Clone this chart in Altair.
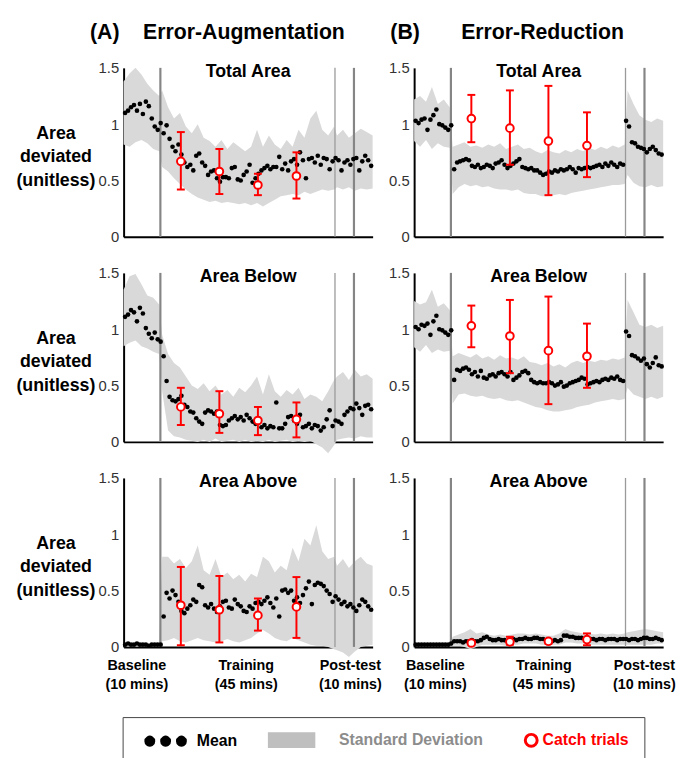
import altair as alt
import pandas as pd

FONT = "Liberation Sans"

# ---------------- data ----------------
trial = [i + 0.5 for i in range(84)]
band_x = [0, 2, 4, 6, 8, 10, 12] + list(range(13, 72, 2)) + [72, 74, 76, 78, 80, 82, 84]
catch_x = [19.3, 32.3, 45.3, 58.3]
vline_thick = [12.4, 77.7]
vline_thin = [71.3]

# (A) Error-Augmentation, Total Area
a1_mean = [1.10, 1.12, 1.15, 1.17, 1.12, 1.18, 1.09, 1.20, 1.16, 1.05, 0.98, 0.95, 1.01,
           0.92, 0.99, 0.87, 0.80, 0.76, 0.82, 0.73, 0.66, 0.62, 0.64, 0.59, 0.72, 0.74, 0.66, 0.63, 0.55,
           0.58, 0.59, 0.52, 0.49, 0.53, 0.53, 0.52, 0.61, 0.62, 0.51, 0.50, 0.55, 0.58, 0.64, 0.48, 0.52,
           0.56, 0.59, 0.61, 0.63, 0.60, 0.62, 0.62, 0.71, 0.60, 0.65, 0.59, 0.67, 0.69, 0.64, 0.75, 0.68,
           0.52, 0.69, 0.70, 0.66, 0.72, 0.64, 0.70, 0.69, 0.60, 0.67,
           0.70, 0.68, 0.59, 0.66, 0.68, 0.64, 0.69, 0.70, 0.59, 0.67, 0.72, 0.68, 0.63]
a1_upper = [1.38, 1.45, 1.50, 1.44, 1.36, 1.30, 1.25,
            1.30, 1.15, 1.05, 1.10, 0.98, 0.92, 1.00, 0.88, 0.85, 0.80,
            0.86, 0.78, 0.84, 0.80, 0.76, 0.80, 0.95, 0.80, 0.90, 0.82,
            0.78, 0.86, 0.80, 0.95, 0.88, 1.05, 1.12, 0.95, 0.90, 0.98,
            0.90, 0.95, 0.88, 0.92, 0.96, 0.93, 0.90]
a1_lower = [0.82, 0.80, 0.84, 0.86, 0.83, 0.78, 0.76,
            0.62, 0.58, 0.52, 0.47, 0.42, 0.38, 0.35, 0.33, 0.31, 0.32,
            0.30, 0.31, 0.30, 0.29, 0.30, 0.28, 0.30, 0.27, 0.30, 0.33,
            0.36, 0.37, 0.38, 0.37, 0.40, 0.38, 0.40, 0.42, 0.41, 0.42,
            0.44, 0.42, 0.44, 0.41, 0.43, 0.42, 0.43]
a1_c_mean = [0.67, 0.58, 0.46, 0.54]
a1_c_lo = [0.42, 0.38, 0.37, 0.34]
a1_c_hi = [0.93, 0.78, 0.56, 0.75]

# (B) Error-Reduction, Total Area
b1_mean = [1.03, 1.01, 1.04, 1.05, 0.95, 1.04, 1.08, 1.13, 1.00, 0.99, 0.97, 0.95, 0.99,
           0.60, 0.66, 0.67, 0.68, 0.69, 0.68, 0.63, 0.62, 0.64, 0.61,
           0.62, 0.64, 0.63, 0.61, 0.65, 0.66, 0.68, 0.64, 0.61, 0.63,
           0.65, 0.67, 0.69, 0.62, 0.61, 0.60, 0.61, 0.59, 0.59, 0.57,
           0.55, 0.56, 0.58, 0.57, 0.59, 0.58, 0.60, 0.59, 0.60, 0.62,
           0.60, 0.57, 0.61, 0.60, 0.61, 0.62, 0.61, 0.62, 0.63, 0.64,
           0.62, 0.65, 0.63, 0.66, 0.64, 0.62, 0.65, 0.64,
           1.03, 0.98, 0.84, 0.83, 0.80, 0.79, 0.78, 0.75, 0.78, 0.80, 0.77, 0.74, 0.73]
b1_upper = [1.22, 1.25, 1.20, 1.33, 1.18, 1.22, 1.15,
            0.80, 0.82, 0.84, 0.80, 0.81, 0.79, 0.82, 0.80, 0.83, 0.78,
            0.80, 0.82, 0.78, 0.79, 0.76, 0.74, 0.77, 0.75, 0.74, 0.77,
            0.75, 0.78, 0.76, 0.79, 0.77, 0.80, 0.78, 0.81, 0.79, 0.82,
            1.30, 1.18, 1.08, 1.04, 1.02, 1.05, 1.03]
b1_lower = [0.85, 0.80, 0.86, 0.78, 0.83, 0.80, 0.79,
            0.38, 0.44, 0.47, 0.45, 0.46, 0.44, 0.45, 0.43, 0.42, 0.42,
            0.41, 0.42, 0.39, 0.38, 0.38, 0.36, 0.36, 0.37, 0.38, 0.37,
            0.39, 0.40, 0.41, 0.42, 0.43, 0.44, 0.45, 0.46, 0.46, 0.47,
            0.55, 0.48, 0.45, 0.44, 0.46, 0.44, 0.45]
b1_c_mean = [1.05, 0.965, 0.85, 0.81]
b1_c_lo = [0.84, 0.64, 0.37, 0.53]
b1_c_hi = [1.26, 1.30, 1.34, 1.105]

# (A) Area Below
a2_mean = [1.11, 1.13, 1.17, 1.15, 1.07, 1.19, 1.14, 1.01, 0.96, 0.92, 0.97, 0.91, 0.89,
           0.76, 0.54, 0.40, 0.37, 0.36, 0.38, 0.41, 0.33, 0.31, 0.27,
           0.26, 0.21, 0.18, 0.16, 0.26, 0.28, 0.27, 0.25, 0.27, 0.15,
           0.14, 0.15, 0.19, 0.21, 0.23, 0.20, 0.22, 0.19, 0.24, 0.21,
           0.18, 0.16, 0.21, 0.13, 0.15, 0.12, 0.14, 0.13, 0.35, 0.12,
           0.12, 0.16, 0.22, 0.23, 0.19, 0.16, 0.24, 0.13, 0.14, 0.16,
           0.12, 0.15, 0.14, 0.10, 0.13, 0.20, 0.28, 0.14,
           0.19, 0.18, 0.16, 0.24, 0.27, 0.30, 0.29, 0.34, 0.30, 0.24, 0.32, 0.33, 0.29]
a2_upper = [1.35, 1.47, 1.49, 1.40, 1.30, 1.28, 1.22,
            0.95, 0.78, 0.70, 0.66, 0.58, 0.50, 0.47, 0.52, 0.45, 0.50,
            0.42, 0.46, 0.40, 0.48, 0.44, 0.50, 0.58, 0.42, 0.60, 0.45,
            0.40, 0.46, 0.42, 0.48, 0.38, 0.42, 0.40, 0.36, 0.45, 0.55,
            0.58, 0.62, 0.55, 0.64, 0.58, 0.60, 0.56]
a2_lower = [0.85, 0.88, 0.90, 0.85, 0.83, 0.80, 0.78,
            0.45, 0.10, 0.05, 0.04, 0.02, 0.01, 0.00, 0.02, 0.00, 0.03,
            0.00, 0.01, 0.02, 0.00, 0.02, 0.00, 0.01, 0.00, 0.02, 0.00,
            0.01, 0.02, 0.00, 0.01, 0.00, 0.01, -0.02, -0.05, -0.10, -0.03,
            0.02, 0.03, 0.04, 0.03, 0.05, 0.04, 0.04]
a2_c_mean = [0.31, 0.25, 0.19, 0.20]
a2_c_lo = [0.15, 0.08, 0.06, 0.04]
a2_c_hi = [0.48, 0.45, 0.31, 0.35]

# (B) Area Below
b2_mean = [1.02, 1.00, 1.04, 1.03, 1.05, 0.95, 1.07, 1.12, 1.00, 0.99, 0.97, 0.95, 0.99,
           0.55, 0.64, 0.63, 0.65, 0.66, 0.64, 0.60, 0.62, 0.58, 0.63,
           0.57, 0.56, 0.59, 0.60, 0.58, 0.61, 0.62, 0.60, 0.58, 0.62,
           0.55, 0.57, 0.59, 0.62, 0.63, 0.61, 0.55, 0.53, 0.52, 0.53,
           0.52, 0.52, 0.53, 0.52, 0.50, 0.51, 0.53, 0.49, 0.50, 0.52,
           0.53, 0.54, 0.55, 0.57, 0.56, 0.51, 0.52, 0.53, 0.54, 0.53,
           0.55, 0.56, 0.55, 0.57, 0.56, 0.58, 0.55, 0.54,
           0.98, 0.94, 0.77, 0.76, 0.74, 0.72, 0.74, 0.69, 0.66, 0.70, 0.75, 0.68, 0.67]
b2_upper = [1.25, 1.22, 1.24, 1.35, 1.20, 1.23, 1.17,
            0.76, 0.79, 0.77, 0.75, 0.78, 0.74, 0.76, 0.73, 0.77, 0.74,
            0.75, 0.73, 0.76, 0.71, 0.70, 0.68, 0.70, 0.67, 0.69, 0.66,
            0.70, 0.72, 0.70, 0.72, 0.71, 0.73, 0.72, 0.74, 0.73, 0.75,
            1.26, 1.15, 1.04, 1.02, 1.04, 1.01, 1.03]
b2_lower = [0.84, 0.80, 0.86, 0.79, 0.82, 0.80, 0.81,
            0.34, 0.42, 0.43, 0.41, 0.40, 0.41, 0.39, 0.38, 0.39, 0.37,
            0.36, 0.37, 0.35, 0.33, 0.31, 0.30, 0.28, 0.27, 0.27, 0.28,
            0.29, 0.31, 0.32, 0.33, 0.35, 0.36, 0.37, 0.38, 0.37, 0.38,
            0.48, 0.42, 0.40, 0.38, 0.40, 0.38, 0.40]
b2_c_mean = [1.03, 0.94, 0.81, 0.76]
b2_c_lo = [0.84, 0.61, 0.335, 0.48]
b2_c_hi = [1.21, 1.26, 1.29, 1.05]

# (A) Area Above
a3_mean = [0.02, 0.03, 0.02, 0.02, 0.03, 0.02, 0.02, 0.02, 0.01, 0.02, 0.02, 0.02, 0.02,
           0.27, 0.48, 0.43, 0.50, 0.46, 0.40, 0.32, 0.30, 0.34, 0.37,
           0.42, 0.40, 0.55, 0.53, 0.37, 0.35, 0.38, 0.34, 0.31, 0.36,
           0.40, 0.41, 0.35, 0.34, 0.42, 0.38, 0.36, 0.32, 0.31, 0.36,
           0.34, 0.39, 0.40, 0.38, 0.41, 0.44, 0.39, 0.35, 0.43, 0.27,
           0.50, 0.51, 0.48, 0.50, 0.41, 0.44, 0.39, 0.46, 0.52, 0.58,
           0.38, 0.55, 0.57, 0.56, 0.54, 0.50, 0.47, 0.40,
           0.45, 0.42, 0.38, 0.40, 0.36, 0.38, 0.35, 0.32, 0.37, 0.42, 0.40, 0.36, 0.33]
a3_upper = [0.035, 0.035, 0.035, 0.03, 0.035, 0.035, 0.035,
            0.80, 0.80, 0.74, 0.78, 0.70, 0.76, 0.90, 0.68, 0.64, 0.78,
            0.62, 0.66, 0.60, 0.64, 0.58, 0.65, 0.62, 0.80, 0.76, 0.66,
            0.72, 0.68, 0.88, 0.76, 0.96, 0.90, 1.08, 0.85, 0.78, 0.80,
            0.72, 0.78, 0.70, 0.76, 0.80, 0.74, 0.72]
a3_lower = [0.005, 0.005, 0.005, 0.005, 0.005, 0.005, 0.005,
            0.05, 0.06, 0.08, 0.05, 0.04, 0.06, 0.08, 0.06, 0.05, 0.04,
            0.05, 0.07, 0.05, 0.04, 0.06, 0.08, 0.12, 0.15, 0.12, 0.08,
            0.06, 0.05, 0.08, 0.06, 0.04, 0.02, 0.01, 0.01, 0.00, -0.02,
            -0.03, -0.05, -0.09, -0.04, 0.00, 0.01, 0.02]
a3_c_mean = [0.37, 0.33, 0.28, 0.355]
a3_c_lo = [0.015, 0.04, 0.145, 0.08]
a3_c_hi = [0.71, 0.63, 0.43, 0.62]

# (B) Area Above
b3_mean = [0.02, 0.02, 0.02, 0.02, 0.02, 0.02, 0.02, 0.02, 0.02, 0.02, 0.02, 0.02, 0.03,
           0.05, 0.05, 0.05, 0.04, 0.05, 0.05, 0.06, 0.05, 0.05, 0.06,
           0.08, 0.09, 0.07, 0.06, 0.06, 0.07, 0.06, 0.06, 0.05, 0.06,
           0.07, 0.06, 0.07, 0.07, 0.08, 0.07, 0.07, 0.08, 0.08, 0.07,
           0.07, 0.06, 0.06, 0.05, 0.06, 0.05, 0.06, 0.10, 0.10, 0.09,
           0.09, 0.08, 0.08, 0.08, 0.07, 0.08, 0.07, 0.07, 0.06, 0.07,
           0.07, 0.06, 0.07, 0.07, 0.07, 0.06, 0.07, 0.07,
           0.07, 0.06, 0.07, 0.07, 0.06, 0.07, 0.08, 0.08, 0.07, 0.07, 0.08, 0.07, 0.06]
b3_upper = [0.03, 0.03, 0.03, 0.03, 0.03, 0.03, 0.03,
            0.09, 0.11, 0.13, 0.16, 0.12, 0.13, 0.11, 0.10, 0.11, 0.10,
            0.11, 0.12, 0.12, 0.11, 0.12, 0.11, 0.10, 0.10, 0.12, 0.16,
            0.14, 0.13, 0.12, 0.12, 0.11, 0.12, 0.11, 0.12, 0.11, 0.12,
            0.13, 0.14, 0.15, 0.16, 0.15, 0.14, 0.13]
b3_lower = [0.01, 0.01, 0.01, 0.01, 0.01, 0.01, 0.01,
            0.01, 0.01, 0.00, -0.02, 0.00, 0.02, 0.02, 0.02, 0.02, 0.01,
            0.02, 0.02, 0.03, 0.03, 0.03, 0.02, 0.02, 0.02, 0.02, 0.04,
            0.04, 0.03, 0.03, 0.02, 0.02, 0.02, 0.02, 0.02, 0.02, 0.02,
            0.02, 0.02, 0.02, 0.02, 0.02, 0.03, 0.03]
b3_c_mean = [0.035, 0.045, 0.05, 0.065]
b3_c_lo = [0.02, 0.02, 0.03, 0.015]
b3_c_hi = [0.055, 0.09, 0.07, 0.12]

panel_titles = ["Total Area", "Area Below", "Area Above"]
NB = "\u00a0"
header = "(A)" + NB * 4 + "Error-Augmentation" + NB * 7 + "\u2009" + "(B)" + NB * 7 + "Error-Reduction"
row_label = ["Area", "deviated", "(unitless)"]
phase_ticks_a = [4.3, 41.2, 76.3]
phase_ticks_b = [7.0, 43.6, 77.5]
legend_labels = ["Mean", "Standard Deviation", "Catch trials"]

for arr in [a1_mean, b1_mean, a2_mean, b2_mean, a3_mean, b3_mean]:
    assert len(arr) == 84, len(arr)
for arr in [a1_upper, a1_lower, b1_upper, b1_lower, a2_upper, a2_lower,
            b2_upper, b2_lower, a3_upper, a3_lower, b3_upper, b3_lower]:
    assert len(arr) == 44, len(arr)

# ---------------- styling helpers ----------------
PW, PH = 252, 171
xs = alt.Scale(domain=[0, 84], nice=False, zero=False)
ys = alt.Scale(domain=[0, 1.5], nice=False, zero=False)

LABEL_EXPR = ("datum.value < 20 ? ['Baseline', '(10 mins)'] : "
              "datum.value < 60 ? ['Training', '(45 mins)'] : ['Post-test', '(10 mins)']")


def x_axis(bottom, vals):
    if bottom:
        return alt.Axis(values=vals, labelExpr=LABEL_EXPR, ticks=False, grid=False,
                        domainColor="black", domainWidth=2, labelFont=FONT,
                        labelFontSize=14.5, labelFontWeight="bold", labelColor="black",
                        labelBaseline="top", labelLineHeight=19, labelPadding=12,
                        labelFlush=False, labelOverlap=False, title=None)
    return alt.Axis(labels=False, ticks=False, grid=False, domainColor="black",
                    domainWidth=2, title=None)


def y_axis(with_title):
    kw = dict(values=[0, 0.5, 1, 1.5], format="~g", ticks=False, grid=False,
              domainColor="black", domainWidth=2, labelFont=FONT, labelFontSize=15,
              labelColor="#333333", labelPadding=5)
    if with_title:
        kw.update(title=row_label, titleAngle=0, titleAlign="center", titleBaseline="middle",
                  titleX=-69, titleY=66, titleFont=FONT, titleFontSize=18,
                  titleFontWeight="bold", titleColor="black", titleLineHeight=24)
    else:
        kw.update(title=None)
    return alt.Axis(**kw)


leg = alt.Legend(
    title=None, orient="none", legendX=-1, legendY=657, direction="horizontal",
    padding=15, strokeColor="#444444", fillColor="white", columnPadding=-17,
    symbolSize=144, symbolStrokeWidth=3, symbolOpacity=1,
    labelFont=FONT, labelFontSize=16, labelFontWeight="bold", labelOffset=44, labelLimit=300,
    labelColor={"expr": "datum.value == 'Mean' ? 'black' : datum.value == 'Catch trials' ? 'red' : '#8c8c8c'"},
)
legend_fill = ["black", "#bfbfbf", "white"]
legend_stroke = ["black", "#bfbfbf", "red"]
legend_shapes = [
    "M0.083,0 a0.667,0.667 0 1,0 1.333,0 a0.667,0.667 0 1,0 -1.333,0 Z "
    "M2.75,0 a0.667,0.667 0 1,0 1.333,0 a0.667,0.667 0 1,0 -1.333,0 Z "
    "M5.417,0 a0.667,0.667 0 1,0 1.333,0 a0.667,0.667 0 1,0 -1.333,0 Z",
    "M-10.17,0 M-3.083,-1.083 H4.417 V1.083 H-3.083 Z",
    "M5.75,0 a1,1 0 1,0 2,0 a1,1 0 1,0 -2,0 Z",
]


def panel(mean, upper, lower, c_mean, c_lo, c_hi, title, ytitle, bottom, ticks, with_legend):
    xa = x_axis(bottom, ticks)
    ya = y_axis(ytitle)
    X = lambda f: alt.X(f, scale=xs, axis=xa)
    Y = lambda f: alt.Y(f, scale=ys, axis=ya)

    band_df = pd.DataFrame({"trial": band_x, "lo": lower, "hi": upper})
    mean_df = pd.DataFrame({"trial": trial, "mean": mean})
    catch_df = pd.DataFrame({"trial": catch_x, "mean": c_mean, "lo": c_lo, "hi": c_hi})

    band = alt.Chart(band_df).mark_area(color="#d9d9d9", opacity=1).encode(
        x=X("trial:Q"), y=Y("lo:Q"), y2="hi:Q")
    thick = alt.Chart(pd.DataFrame({"trial": vline_thick})).mark_rule(
        color="#858585", strokeWidth=2.2).encode(x=X("trial:Q"))
    thin = alt.Chart(pd.DataFrame({"trial": vline_thin})).mark_rule(
        color="#9a9a9a", strokeWidth=1.3).encode(x=X("trial:Q"))
    pts = alt.Chart(mean_df).mark_circle(color="black", size=22, opacity=1).encode(
        x=X("trial:Q"), y=Y("mean:Q"))
    bars = alt.Chart(catch_df).mark_rule(color="red", strokeWidth=2).encode(
        x=X("trial:Q"), y=Y("lo:Q"), y2="hi:Q")
    cap_lo = alt.Chart(catch_df).mark_tick(color="red", orient="horizontal", size=8,
                                           thickness=2, opacity=1).encode(
        x=X("trial:Q"), y=Y("lo:Q"))
    cap_hi = alt.Chart(catch_df).mark_tick(color="red", orient="horizontal", size=8,
                                           thickness=2, opacity=1).encode(
        x=X("trial:Q"), y=Y("hi:Q"))
    circ = alt.Chart(catch_df).mark_point(shape="circle", size=60, filled=True, fill="white",
                                          stroke="red", strokeWidth=2, opacity=1).encode(
        x=X("trial:Q"), y=Y("mean:Q"))
    layers = [band, thick, thin, pts, bars, cap_lo, cap_hi, circ]
    if with_legend:
        dummy = alt.Chart(pd.DataFrame({"series": legend_labels})).transform_filter(
            "false").mark_point(filled=True, opacity=1, strokeWidth=3).encode(
            fill=alt.Fill("series:N", scale=alt.Scale(domain=legend_labels, range=legend_fill), legend=leg),
            stroke=alt.Stroke("series:N", scale=alt.Scale(domain=legend_labels, range=legend_stroke), legend=leg),
            shape=alt.Shape("series:N", scale=alt.Scale(domain=legend_labels, range=legend_shapes), legend=leg),
        )
        layers.append(dummy)
    return alt.layer(*layers).properties(
        width=PW, height=PH,
        title=alt.TitleParams(title, font=FONT, fontSize=18, fontWeight="bold", color="black",
                              anchor="middle", offset=-20),
    )


panels = [
    panel(a1_mean, a1_upper, a1_lower, a1_c_mean, a1_c_lo, a1_c_hi, panel_titles[0], True, False, phase_ticks_a, False),
    panel(b1_mean, b1_upper, b1_lower, b1_c_mean, b1_c_lo, b1_c_hi, panel_titles[0], False, False, phase_ticks_b, False),
    panel(a2_mean, a2_upper, a2_lower, a2_c_mean, a2_c_lo, a2_c_hi, panel_titles[1], True, False, phase_ticks_a, False),
    panel(b2_mean, b2_upper, b2_lower, b2_c_mean, b2_c_lo, b2_c_hi, panel_titles[1], False, False, phase_ticks_b, False),
    panel(a3_mean, a3_upper, a3_lower, a3_c_mean, a3_c_lo, a3_c_hi, panel_titles[2], True, True, phase_ticks_a, True),
    panel(b3_mean, b3_upper, b3_lower, b3_c_mean, b3_c_lo, b3_c_hi, panel_titles[2], False, True, phase_ticks_b, False),
]

chart = alt.concat(
    *panels, columns=2, spacing={"row": 36.5, "column": 42}, bounds="flush"
).properties(
    title=alt.TitleParams(header, font=FONT, fontSize=21.5, fontWeight="bold", color="black",
                          anchor="start", frame="group", dx=-34, offset=18),
    padding={"left": 7, "top": 9, "right": 0, "bottom": 0},
).configure_view(strokeWidth=0).configure_axis(grid=False)

chart.save("out.html", embed_options={"renderer": "svg", "actions": False})
